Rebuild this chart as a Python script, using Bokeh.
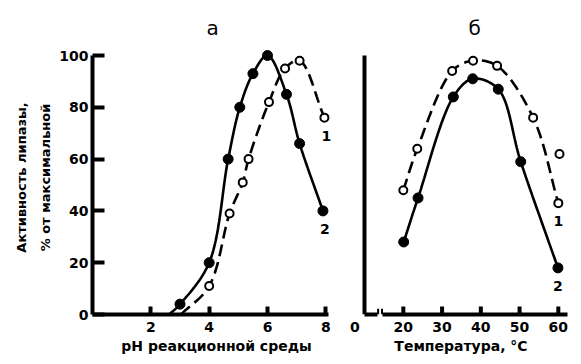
import numpy as np
from bokeh.plotting import figure
from bokeh.layouts import row
from bokeh.models import FixedTicker
from bokeh.embed import file_html
from bokeh.resources import INLINE
from bokeh.core.properties import value

# ---------------- data ----------------
# panel "а": activity vs pH
ph_ticks = [2, 4, 6, 8]
pct_ticks = [0, 20, 40, 60, 80, 100]
ph_c2_x = [3.0, 4.0, 4.65, 5.05, 5.5, 6.0, 6.65, 7.1, 7.9]      # curve 2 (filled)
ph_c2_y = [4, 20, 60, 80, 93, 100, 85, 66, 40]
ph_c2_onset = 2.63                                                # curve leaves 0
ph_c1_x = [4.0, 4.7, 5.15, 5.35, 6.05, 6.6, 7.1, 7.95]           # curve 1 (open)
ph_c1_y = [11, 39, 51, 60, 82, 95, 98, 76]
ph_c1_onset = 3.03

# panel "б": activity vs temperature (broken axis: "0" shown left of the break)
t_zero_pos = 7.5
t_ticks = [20, 30, 40, 50, 60]
t_c1_x = [20, 23.6, 32.6, 38.0, 44.2, 53.5, 60.0]                # curve 1 (open)
t_c1_y = [48, 64, 94, 98, 96, 76, 43]
t_c1_extra_x = [60.3]                                             # stray open point
t_c1_extra_y = [62]
t_c2_x = [20.1, 23.8, 32.9, 37.9, 44.5, 50.3, 59.9]              # curve 2 (filled)
t_c2_y = [28, 45, 84, 91, 87, 59, 18]
curve_names = ["1", "2"]

FONT = "DejaVu Sans"


def smooth(xs, ys, sx, sy, n=30, alpha=0.5):
    """centripetal Catmull-Rom through the given points (computed in pixel space)"""
    P = np.column_stack([np.asarray(xs, float) * sx, np.asarray(ys, float) * sy])
    P = np.vstack([2 * P[0] - P[1], P, 2 * P[-1] - P[-2]])
    out = []
    for i in range(1, len(P) - 2):
        p0, p1, p2, p3 = P[i - 1], P[i], P[i + 1], P[i + 2]

        def tj(ti, a, b):
            return ti + max(np.hypot(*(b - a)), 1e-6) ** alpha
        t0 = 0.0
        t1 = tj(t0, p0, p1)
        t2 = tj(t1, p1, p2)
        t3 = tj(t2, p2, p3)
        t = np.linspace(t1, t2, n)[:, None]
        A1 = (t1 - t) / (t1 - t0) * p0 + (t - t0) / (t1 - t0) * p1
        A2 = (t2 - t) / (t2 - t1) * p1 + (t - t1) / (t2 - t1) * p2
        A3 = (t3 - t) / (t3 - t2) * p2 + (t - t2) / (t3 - t2) * p3
        B1 = (t2 - t) / (t2 - t0) * A1 + (t - t0) / (t2 - t0) * A2
        B2 = (t3 - t) / (t3 - t1) * A2 + (t - t1) / (t3 - t1) * A3
        C = (t2 - t) / (t2 - t1) * B1 + (t - t1) / (t2 - t1) * B2
        out.append(C if i == 1 else C[1:])
    C = np.vstack(out)
    return C[:, 0] / sx, C[:, 1] / sy


def style(p):
    p.outline_line_color = None
    p.grid.visible = False
    p.background_fill_color = "white"
    p.border_fill_color = "white"
    for ax in p.axis:
        ax.axis_line_width = 4
        ax.axis_line_color = "black"
        ax.major_tick_line_width = 4
        ax.major_tick_line_color = "black"
        ax.major_tick_in = 8
        ax.major_tick_out = 0
        ax.minor_tick_line_color = None
        ax.major_label_text_font = FONT
        ax.major_label_text_font_style = "bold"
        ax.major_label_text_font_size = "14px"
        ax.major_label_text_color = "black"
        ax.axis_label_text_font = FONT
        ax.axis_label_text_font_style = "bold"
        ax.axis_label_text_font_size = "14px"
        ax.axis_label_text_color = "black"
    p.title.text_font = FONT
    p.title.text_font_style = "normal"
    p.title.text_font_size = "20px"
    p.title.text_color = "black"
    p.title.align = "left"
    p.title.standoff = 2


SX1, SY = 29.17, 2.59
SX2 = 3.875
TXT = dict(text_align="center", text_baseline="middle", text_font=value(FONT),
           text_font_style="bold", text_font_size="14px", text_color="black")

# ---------------- panel а ----------------
p1 = figure(width=340, height=364, x_range=(0, 248 / SX1), y_range=(0, 274 / SY),
            output_backend="svg", toolbar_location=None, title="а",
            min_border_left=92, min_border_right=0, min_border_top=40, min_border_bottom=50)
style(p1)
p1.title.offset = 114
p1.xaxis.ticker = FixedTicker(ticks=ph_ticks)
p1.yaxis.ticker = FixedTicker(ticks=pct_ticks)
p1.xaxis.bounds = (0, 8.1)
p1.yaxis.bounds = (0, 100)
p1.yaxis.major_tick_in = 12
p1.xaxis.major_label_standoff = 7
p1.yaxis.major_label_standoff = 4
p1.xaxis.axis_label = "pH реакционной среды"
p1.xaxis.axis_label_standoff = 3
p1.yaxis.axis_label = "Активность липазы,\n% от максимальной"
p1.yaxis.axis_label_text_font_size = "13px"
p1.yaxis.axis_label_text_line_height = 1.65
p1.yaxis.axis_label_standoff = 3

cx, cy = smooth([ph_c2_onset] + ph_c2_x, [0] + ph_c2_y, SX1, SY)
p1.line(cx, cy, line_width=2.6, color="black")
cx, cy = smooth([ph_c1_onset] + ph_c1_x, [0] + ph_c1_y, SX1, SY)
p1.line(cx, cy, line_width=2.6, color="black", line_dash="12 6")
p1.scatter(ph_c2_x, ph_c2_y, size=10, fill_color="black", line_color="black")
p1.scatter(ph_c1_x, ph_c1_y, size=8, fill_color="white", line_color="black", line_width=2)
p1.text(x=[ph_c1_x[-1], ph_c2_x[-1]], y=[ph_c1_y[-1], ph_c2_y[-1]], text=curve_names,
        x_offset=2, y_offset=18, **TXT)

# ---------------- panel б ----------------
x0_2 = t_zero_pos - 0.1
p2 = figure(width=241, height=364, x_range=(x0_2, x0_2 + 213 / SX2), y_range=(0, 274 / SY),
            output_backend="svg", toolbar_location=None, title="б",
            min_border_left=14, min_border_right=14, min_border_top=40, min_border_bottom=50)
style(p2)
p2.title.offset = 114
p2.yaxis.fixed_location = 10
p2.yaxis.ticker = FixedTicker(ticks=[])
p2.yaxis.major_label_text_font_size = "0px"
p2.yaxis.bounds = (0, 100)
p2.xaxis.ticker = FixedTicker(ticks=[t_zero_pos] + t_ticks)
p2.xaxis.major_label_overrides = {t_zero_pos: "0"}
p2.xaxis.major_tick_line_color = None
p2.xaxis.bounds = (t_zero_pos, 63.6)
p2.xaxis.major_label_standoff = 7
p2.xaxis.axis_label = "Температура, °C"
p2.xaxis.axis_label_standoff = 3
p2.xaxis.axis_line_dash = "0 10 13 5 400"
# inward tick marks of the temperature axis
p2.segment(x0=t_ticks, y0=[0] * len(t_ticks), x1=t_ticks, y1=[3.1] * len(t_ticks),
           line_width=4, color="black")
# axis break marks "||"
axis_break = [13.5, 14.5]
p2.segment(x0=axis_break, y0=[0, 0], x1=axis_break, y1=[2.2, 2.2], line_width=2, color="black")

cx, cy = smooth(t_c2_x, t_c2_y, SX2, SY)
p2.line(cx, cy, line_width=2.6, color="black")
cx, cy = smooth(t_c1_x, t_c1_y, SX2, SY)
p2.line(cx, cy, line_width=2.6, color="black", line_dash="12 6")
p2.scatter(t_c2_x, t_c2_y, size=10, fill_color="black", line_color="black")
p2.scatter(t_c1_x + t_c1_extra_x, t_c1_y + t_c1_extra_y, size=8, fill_color="white",
           line_color="black", line_width=2)
p2.text(x=[t_c1_x[-1], t_c2_x[-1]], y=[t_c1_y[-1], t_c2_y[-1]], text=curve_names,
        x_offset=0, y_offset=18, **TXT)

layout = row(p1, p2, spacing=0)
open("out.html", "w").write(file_html(layout, INLINE))
